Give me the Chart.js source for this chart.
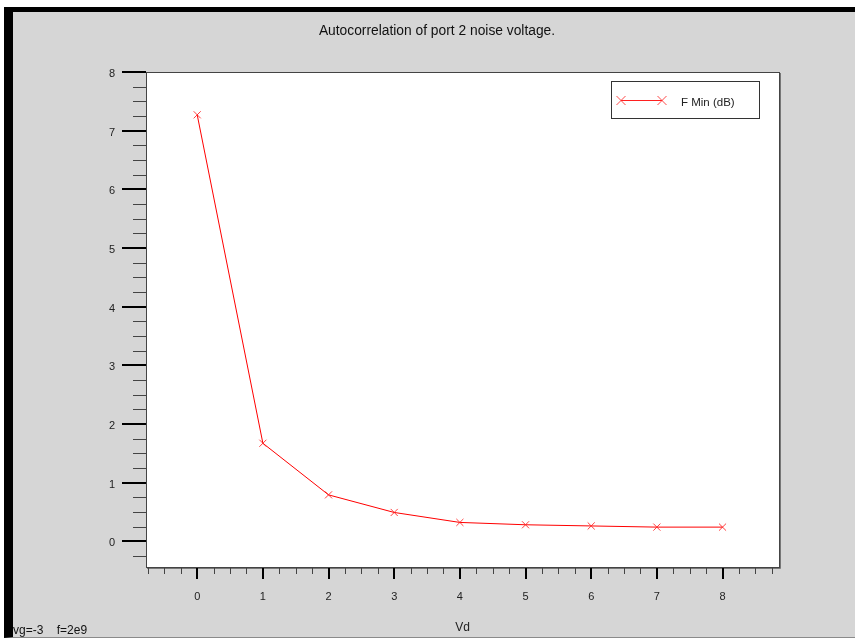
<!DOCTYPE html>
<html>
<head>
<meta charset="utf-8">
<script src="https://cdn.jsdelivr.net/npm/chart.js@4/dist/chart.umd.min.js"></script>
<style>
  body { margin: 0; background: #fff; width: 855px; height: 639px; overflow: hidden; }
  #frame {
    position: absolute; left: 4px; top: 7px; width: 851px; height: 631px;
    box-sizing: border-box; background: #d6d6d6;
    border-top: 5px solid #000; border-left: 9px solid #000; border-bottom: 1px solid #8a8a8a;
  }
  #chart { position: absolute; left: 0; top: 0; }
</style>
</head>
<body>
<div id="frame"></div>
<canvas id="chart" width="855" height="639"></canvas>
<script>
// data
const vdValues = [0, 1, 2, 3, 4, 5, 6, 7, 8];
const fMinDb = [7.27, 1.67, 0.79, 0.49, 0.32, 0.28, 0.26, 0.24, 0.24];
const seriesName = "F Min (dB)";
const titleText = "Autocorrelation of port 2 noise voltage.";
const footText = "vg=-3    f=2e9";
const xTitle = "Vd";

// tick positions (major labels + quarter minor ticks)
const xMajor = [0, 1, 2, 3, 4, 5, 6, 7, 8];
const yMajor = [0, 1, 2, 3, 4, 5, 6, 7, 8];
const xMinorStart = -0.75, xMinorEnd = 8.75;
const yMinorStart = -0.25, yMinorEnd = 8;

const FONT = "'Liberation Sans', Arial, sans-serif";

function quarterTicks(a, b) {
    let out = [];
    for (let v = a; v <= b + 1e-9; v += 0.25) out.push({ value: Math.round(v * 100) / 100 });
    return out;
}

const frameDecor = {
    id: "frameDecor",
    beforeDatasetsDraw(chart) {
        const ctx = chart.ctx;
        const a = chart.chartArea;
        ctx.save();
        ctx.fillStyle = "#fff";
        ctx.fillRect(a.left, a.top, a.right - a.left, a.bottom - a.top);
        ctx.restore();
    },
    afterDraw(chart) {
        const ctx = chart.ctx;
        const a = chart.chartArea;
        const xs = chart.scales.x, ys = chart.scales.y;
        ctx.save();

        // plot border
        ctx.strokeStyle = "#444";
        ctx.lineWidth = 1;
        ctx.strokeRect(a.left + 0.5, a.top + 0.5, a.right - a.left, a.bottom - a.top);
        ctx.beginPath();
        ctx.moveTo(a.right + 1.5, a.top + 1);
        ctx.lineTo(a.right + 1.5, a.bottom + 1.5);
        ctx.lineTo(a.left + 1, a.bottom + 1.5);
        ctx.strokeStyle = "#777";
        ctx.stroke();

        // x ticks
        xs.ticks.forEach(t => {
            const major = xMajor.includes(t.value);
            const px = Math.round(xs.getPixelForValue(t.value));
            ctx.fillStyle = major ? "#000" : "#444";
            if (major) ctx.fillRect(px - 1, a.bottom + 1, 2, 11);
            else ctx.fillRect(px, a.bottom + 1, 1, 6);
        });
        // y ticks
        ys.ticks.forEach(t => {
            const major = yMajor.includes(t.value);
            const py = Math.round(ys.getPixelForValue(t.value));
            ctx.fillStyle = major ? "#000" : "#444";
            if (major) ctx.fillRect(a.left - 24, py - 1, 24, 2);
            else ctx.fillRect(a.left - 13, py, 13, 1);
        });

        // title and footer
        ctx.fillStyle = "#111";
        ctx.font = "13.8px " + FONT;
        ctx.textAlign = "center";
        ctx.textBaseline = "middle";
        ctx.fillText(titleText, 437, 31);
        ctx.font = "12px " + FONT;
        ctx.textAlign = "left";
        ctx.fillText(footText, 13, 631);

        // legend box
        const lx = 611, ly = 81, lw = 148, lh = 37;
        ctx.fillStyle = "#fff";
        ctx.fillRect(lx, ly, lw, lh);
        ctx.strokeStyle = "#333";
        ctx.lineWidth = 1;
        ctx.strokeRect(lx + 0.5, ly + 0.5, lw, lh);
        ctx.strokeStyle = "#ff2020";
        ctx.beginPath();
        ctx.moveTo(621, 100.5);
        ctx.lineTo(662, 100.5);
        ctx.stroke();
        [621, 662].forEach(cx => {
            ctx.beginPath();
            ctx.moveTo(cx - 4.5, 96); ctx.lineTo(cx + 4.5, 105);
            ctx.moveTo(cx + 4.5, 96); ctx.lineTo(cx - 4.5, 105);
            ctx.strokeStyle = "rgba(255,40,40,0.85)";
            ctx.stroke();
        });
        ctx.fillStyle = "#222";
        ctx.font = "11.5px " + FONT;
        ctx.textAlign = "left";
        ctx.fillText(seriesName, 681, 103);
        ctx.restore();
    }
};

new Chart(document.getElementById("chart"), {
    type: "line",
    data: {
        datasets: [{
            label: seriesName,
            data: vdValues.map((v, i) => ({ x: v, y: fMinDb[i] })),
            borderColor: "#ff0000",
            borderWidth: 1,
            pointStyle: "crossRot",
            pointRadius: 5,
            pointBorderColor: "rgba(255,30,30,0.85)",
            pointBorderWidth: 1,
            tension: 0
        }]
    },
    options: {
        responsive: false,
        animation: false,
        layout: { padding: { top: 72, right: 76, left: 0, bottom: 0 } },
        plugins: { legend: { display: false }, title: { display: false }, tooltip: { enabled: false } },
        scales: {
            x: {
                type: "linear",
                min: -0.78,
                max: 8.86,
                afterBuildTicks: s => { s.ticks = quarterTicks(xMinorStart, xMinorEnd); },
                afterFit: s => { s.height = 72; },
                grid: { display: false, drawTicks: false },
                border: { display: false },
                ticks: {
                    autoSkip: false, maxRotation: 0, padding: 23,
                    color: "#222", font: { family: FONT, size: 11 },
                    callback: v => xMajor.includes(v) ? String(v) : ""
                },
                title: { display: true, text: xTitle, color: "#222", font: { family: FONT, size: 12 }, padding: { top: 0, bottom: 4 } }
            },
            y: {
                min: -0.44,
                max: 8,
                afterBuildTicks: s => { s.ticks = quarterTicks(yMinorStart, yMinorEnd); },
                afterFit: s => { s.width = 146; },
                grid: { display: false, drawTicks: false },
                border: { display: false },
                ticks: {
                    autoSkip: false, padding: 31, labelOffset: 2,
                    color: "#222", font: { family: FONT, size: 11 },
                    callback: v => yMajor.includes(v) ? String(v) : ""
                }
            }
        }
    },
    plugins: [frameDecor]
});
</script>
</body>
</html>
